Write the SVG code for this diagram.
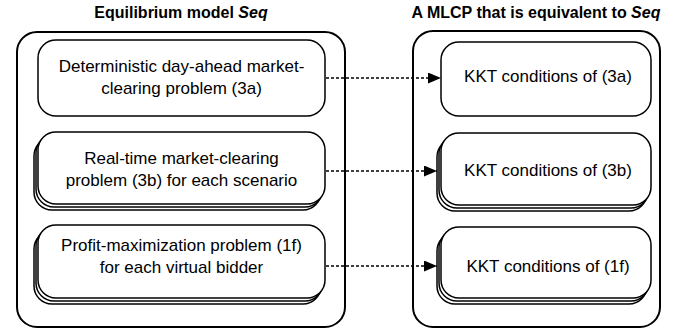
<svg xmlns="http://www.w3.org/2000/svg" width="674" height="332" viewBox="0 0 674 332">
<style>
.outer{fill:#fff;stroke:#000;stroke-width:2}
.box{fill:#fff;stroke:#000;stroke-width:1.5}
.title{font-family:"Liberation Sans",Arial,sans-serif;font-weight:bold;font-size:16px;text-anchor:middle;fill:#000}
.lbl{font-family:"Liberation Sans",Arial,sans-serif;font-size:17px;text-anchor:middle;fill:#000}
.conn{stroke:#000;stroke-width:1.3;stroke-dasharray:3 2;fill:none}
</style>
<defs>
<marker id="arr" markerUnits="userSpaceOnUse" markerWidth="13" markerHeight="11" refX="13" refY="5.5" orient="auto">
<path d="M0,0 L13,5.5 L0,11 z" fill="#000"/>
</marker>
</defs>
<rect width="674" height="332" fill="#fff"/>
<g id="left-panel">
<text class="title" x="181" y="18">Equilibrium model <tspan font-style="italic">Seq</tspan></text>
<rect class="outer" x="17" y="32" width="328" height="295" rx="20"/>
</g>
<g id="right-panel">
<text class="title" x="536" y="18">A MLCP that is equivalent to <tspan font-style="italic">Seq</tspan></text>
<rect class="outer" x="413" y="31" width="247" height="296" rx="20"/>
</g>
<g id="node-3a">
<rect class="box" x="38" y="40" width="287" height="76" rx="18"/>
<text class="lbl" x="181.5" y="72">Deterministic day-ahead market-</text>
<text class="lbl" x="181.5" y="94">clearing problem (3a)</text>
</g>
<g id="node-3b">
<rect class="box" x="34" y="138" width="287" height="72" rx="18"/>
<rect class="box" x="36" y="135" width="287" height="72" rx="18"/>
<rect class="box" x="38" y="132" width="287" height="72" rx="18"/>
<text class="lbl" x="181.5" y="164">Real-time market-clearing</text>
<text class="lbl" x="181.5" y="186">problem (3b) for each scenario</text>
</g>
<g id="node-1f">
<rect class="box" x="34" y="231" width="287" height="73" rx="18"/>
<rect class="box" x="36" y="228" width="287" height="73" rx="18"/>
<rect class="box" x="38" y="225" width="287" height="73" rx="18"/>
<text class="lbl" x="181.5" y="251">Profit-maximization problem (1f)</text>
<text class="lbl" x="181.5" y="273">for each virtual bidder</text>
</g>
<g id="kkt-3a">
<rect class="box" x="441" y="42" width="210" height="74" rx="18"/>
<text class="lbl" x="548" y="82">KKT conditions of (3a)</text>
</g>
<g id="kkt-3b">
<rect class="box" x="437" y="139" width="210" height="72" rx="18"/>
<rect class="box" x="439" y="136" width="210" height="72" rx="18"/>
<rect class="box" x="441" y="133" width="210" height="72" rx="18"/>
<text class="lbl" x="548" y="176">KKT conditions of (3b)</text>
</g>
<g id="kkt-1f">
<rect class="box" x="437" y="233" width="210" height="71" rx="18"/>
<rect class="box" x="439" y="230" width="210" height="71" rx="18"/>
<rect class="box" x="441" y="227" width="210" height="71" rx="18"/>
<text class="lbl" x="548" y="272">KKT conditions of (1f)</text>
</g>
<g id="connectors">
<line class="conn" x1="326" y1="78" x2="441" y2="78" marker-end="url(#arr)"/>
<line class="conn" x1="326" y1="171" x2="437" y2="171" marker-end="url(#arr)"/>
<line class="conn" x1="326" y1="266" x2="437" y2="266" marker-end="url(#arr)"/>
</g>
</svg>
